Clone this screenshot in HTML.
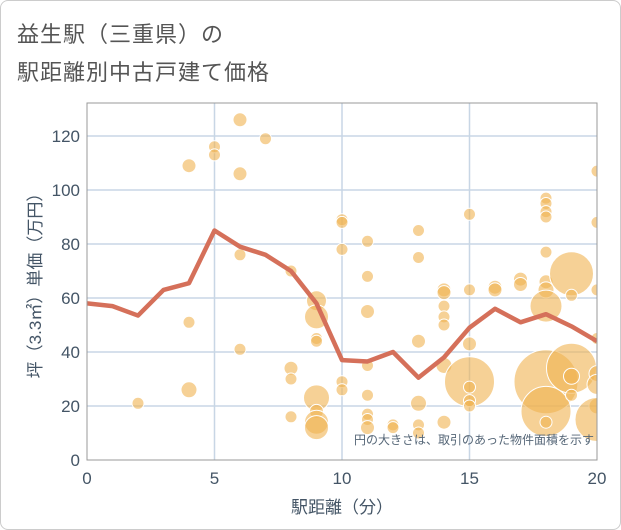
<!DOCTYPE html>
<html><head><meta charset="utf-8"><style>
body{margin:0;background:#fff;}
#wrap{position:relative;width:619px;height:528px;border:1px solid #ccc;border-radius:8px;overflow:hidden;font-family:"Liberation Sans","Noto Sans CJK JP",sans-serif;}
.t{position:absolute;left:16px;font-size:22px;color:#555;letter-spacing:1px;}
</style></head><body>
<div id="wrap">
<div class="t" style="top:16px">益生駅（三重県）の</div>
<div class="t" style="top:54px">駅距離別中古戸建て価格</div>
<svg id="c" width="621" height="530" style="position:absolute;left:-1px;top:-1px"></svg>
</div>
<script>
const xTicks=[0,5,10,15,20];
const yTicks=[0,20,40,60,80,100,120];
const lineX=[0,1,2,3,4,5,6,7,8,9,10,11,12,13,14,15,16,17,18,19,20];
const lineY=[58,57,53.5,63,65.5,85,79,76,70,58,37,36.5,40,30.5,38,49,56,51,54,49.5,44];
const bubX=[2,4,4,4,5,5,6,6,6,6,7,8,8,8,8,9,9,9,9,9,9,9,9,10,10,10,10,10,11,11,11,11,11,11,11,11,12,12,13,13,13,13,13,13,14,14,14,14,14,14,14,15,15,15,15,15,15,15,16,16,17,17,18,18,18,18,18,18,18,18,18,18,18,19,19,19,19,19,20,20,20,20,20,20,20,20];
const bubY=[21,109,51,26,116,113,126,106,76,41,119,70,34,30,16,59,53,45,44,23,18,14,12,89,88,78,29,26,81,68,55,35,24,17,15,12,13,12,85,75,44,21,13,10,63,62,57,53,50,35,14,91,63,43,29,27,22,20,64,63,67,65,97,95,92,90,77,66,63,57,29,18,14,69,61,34,31,24,107,88,63,45,32,28,20,15];
const bubR=[6,7,6,8,6,6,7,7,6,6,6,6,7,6,6,10,12,6,6,13,7,12,12,6,6,6,6,6,6,6,7,6,6,6,6,7,6,6,6,6,7,8,6,6,7,7,6,6,6,8,7,6,6,7,25,6,6,6,7,7,7,7,6,6,6,6,6,7,8,16,32,25,6,22,6,25,8,6,6,6,6,6,8,10,8,22];
const NS="http://www.w3.org/2000/svg";
const svg=document.getElementById('c');
const L=87,R=597,T=103,B=460;
const sx=v=>L+(v/20)*(R-L);
const sy=v=>B-v*2.7;
function mk(tag,attrs,parent){const e=document.createElementNS(NS,tag);for(const k in attrs)e.setAttribute(k,attrs[k]);(parent||svg).appendChild(e);return e;}
const defs=mk('defs',{});const cp=mk('clipPath',{id:'cp'},defs);mk('rect',{x:L,y:T,width:R-L,height:B-T},cp);
yTicks.forEach(v=>{if(v===0)return;const g=mk('line',{x1:L,x2:R,y1:sy(v),y2:sy(v),stroke:'#c8d6e5','stroke-width':1.5});

});
xTicks.forEach(v=>{if(v===0||v===20)return;const g=mk('line',{x1:sx(v),x2:sx(v),y1:T,y2:B,stroke:'#c8d6e5','stroke-width':1.5});

});
const bg=mk('g',{'clip-path':'url(#cp)'});


bubX.forEach((x,i)=>{const c=mk('circle',{cx:sx(x),cy:sy(bubY[i]),r:bubR[i],fill:'#f0b350','fill-opacity':0.6,stroke:'#fff','stroke-width':1},bg);

});
const pts=lineX.map((x,i)=>sx(x)+','+sy(lineY[i])).join(' ');
const pl=mk('polyline',{points:pts,fill:'none',stroke:'#d5705a','stroke-width':4.5,'stroke-linejoin':'round','clip-path':'url(#cp)'});


const fr=mk('rect',{x:L,y:T,width:R-L,height:B-T,fill:'none',stroke:'#999','stroke-width':1});


yTicks.forEach(v=>{const t=mk('text',{x:L-7,y:sy(v)+6,'text-anchor':'end','font-size':17,fill:'#456'});t.textContent=v;

});
xTicks.forEach(v=>{const t=mk('text',{x:sx(v),y:B+24,'text-anchor':'middle','font-size':17,fill:'#456'});t.textContent=v;

});
const xt=mk('text',{x:(L+R)/2,y:513,'text-anchor':'middle','font-size':17,fill:'#456'});xt.textContent='駅距離（分）';


const yt=mk('text',{x:0,y:0,'text-anchor':'middle','font-size':17,fill:'#456',transform:'translate(41,'+((T+B)/2)+') rotate(-90)'});yt.textContent='坪（3.3㎡）単価（万円）';


const nt=mk('text',{x:594,y:444,'text-anchor':'end','font-size':12,fill:'#567'});nt.textContent='円の大きさは、取引のあった物件面積を示す';


</script>
</body></html>
